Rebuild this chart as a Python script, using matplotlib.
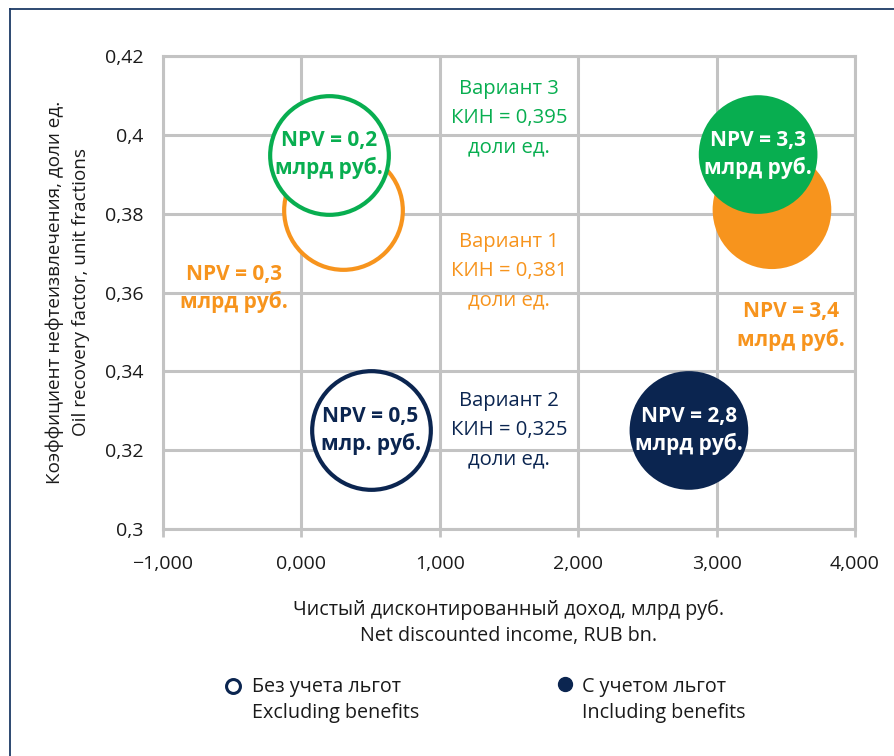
import matplotlib
matplotlib.use("Agg")
import matplotlib.pyplot as plt
from matplotlib.lines import Line2D

plt.rcParams['font.family'] = ['Open Sans', 'DejaVu Sans']

# Data: NPV (bn RUB) vs oil recovery factor for three development variants
variants = ["Вариант 1", "Вариант 2", "Вариант 3"]
recovery_factor = [0.381, 0.325, 0.395]
npv_without = [0.3, 0.5, 0.2]       # excluding benefits
npv_with = [3.4, 2.8, 3.3]          # including benefits
npv_without_text = ["NPV = 0,3\nмлрд руб.", "NPV = 0,5\nмлр. руб.", "NPV = 0,2\nмлрд руб."]
npv_with_text = ["NPV = 3,4\nмлрд руб.", "NPV = 2,8\nмлрд руб.", "NPV = 3,3\nмлрд руб."]
kin_text = ["Вариант 1\nКИН = 0,381\nдоли ед.",
            "Вариант 2\nКИН = 0,325\nдоли ед.",
            "Вариант 3\nКИН = 0,395\nдоли ед."]

x_ticks = [-1, 0, 1, 2, 3, 4]
x_tick_labels = ["\u22121,000", "0,000", "1,000", "2,000", "3,000", "4,000"]
y_ticks = [0.30, 0.32, 0.34, 0.36, 0.38, 0.40, 0.42]
y_tick_labels = ["0,3", "0,32", "0,34", "0,36", "0,38", "0,4", "0,42"]

colors = ["#f7941d", "#0b2550", "#08ae50"]
grid_c = "#c3c3c3"
text_c = "#1a1a1a"
fs = 14.2

fig = plt.figure(figsize=(8.94, 7.56), dpi=100)
ax = fig.add_axes([163/894, 1-529/756, (855-163)/894, (529-56)/756])
ax.set_xlim(-1, 4)
ax.set_ylim(0.30, 0.42)

ax.set_xticks(x_ticks)
ax.set_xticklabels(x_tick_labels)
ax.set_yticks(y_ticks)
ax.set_yticklabels(y_tick_labels)
ax.tick_params(axis='x', length=6, width=2, color=grid_c, pad=13,
               labelsize=14, labelcolor=text_c)
ax.tick_params(axis='y', length=0, pad=14, labelsize=14, labelcolor=text_c)
ax.grid(True, color=grid_c, linewidth=2.2, zorder=0)
for s in ax.spines.values():
    s.set_color(grid_c)
    s.set_linewidth(2.2)
ax.set_axisbelow(True)

bubble_s = 7300
# Bubbles drawn in order orange, navy, green so green overlaps orange
for i in [0, 1, 2]:
    ax.scatter(npv_without[i], recovery_factor[i], s=bubble_s, facecolor="white",
               edgecolor=colors[i], linewidth=3.0, zorder=3 + i)
    ax.scatter(npv_with[i], recovery_factor[i], s=bubble_s, facecolor=colors[i],
               edgecolor="none", zorder=3 + i)

lbl = dict(fontsize=15, fontweight="bold", linespacing=1.35, zorder=10,
           ha="center", va="center")
# Labels inside bubbles
for i in [1, 2]:
    ax.text(npv_without[i], recovery_factor[i], npv_without_text[i],
            color=colors[i], **lbl)
    ax.text(npv_with[i], recovery_factor[i], npv_with_text[i],
            color="white", **lbl)

# Orange labels placed beside their bubbles
ax.text(-0.49, 0.3610, npv_without_text[0], color=colors[0], **lbl)
ax.text(3.54, 0.3515, npv_with_text[0], color=colors[0], **lbl)

# Variant captions in the central column
caption_y = [0.3655, 0.3251, 0.4043]
for i in range(3):
    ax.text(1.5, caption_y[i], kin_text[i], ha="center", va="center",
            color=colors[i], fontsize=14.6, linespacing=1.62, zorder=10)

ax.set_xlabel("Чистый дисконтированный доход, млрд руб.\nNet discounted income, RUB bn.",
              fontsize=fs, color=text_c, labelpad=19, linespacing=1.4)
ax.set_ylabel("Коэффициент нефтеизвлечения, доли ед.\nOil recovery factor, unit fractions",
              fontsize=13.6, color=text_c, labelpad=11, linespacing=1.55)

# Legend
fig.add_artist(Line2D([233/894], [1-686/756], marker="o", markersize=10,
                      markerfacecolor="white", markeredgecolor=colors[1],
                      markeredgewidth=2.2, linestyle="none"))
fig.text(252/894, 1-700/756, "Без учета льгот\nExcluding benefits", fontsize=fs,
         color=text_c, va="center", ha="left", linespacing=1.4)
fig.add_artist(Line2D([565/894], [1-684/756], marker="o", markersize=10,
                      markerfacecolor=colors[1], markeredgecolor=colors[1],
                      linestyle="none"))
fig.text(582/894, 1-700/756, "С учетом льгот\nIncluding benefits", fontsize=fs,
         color=text_c, va="center", ha="left", linespacing=1.4)

# Frame lines on the left and top of the figure
fig.add_artist(Line2D([10/894, 10/894], [0, 1-9/756], color="#1d3a66", linewidth=1.3))
fig.add_artist(Line2D([10/894, 1], [1-9/756, 1-9/756], color="#1d3a66", linewidth=1.3))

fig.savefig("out.png", dpi=100)
